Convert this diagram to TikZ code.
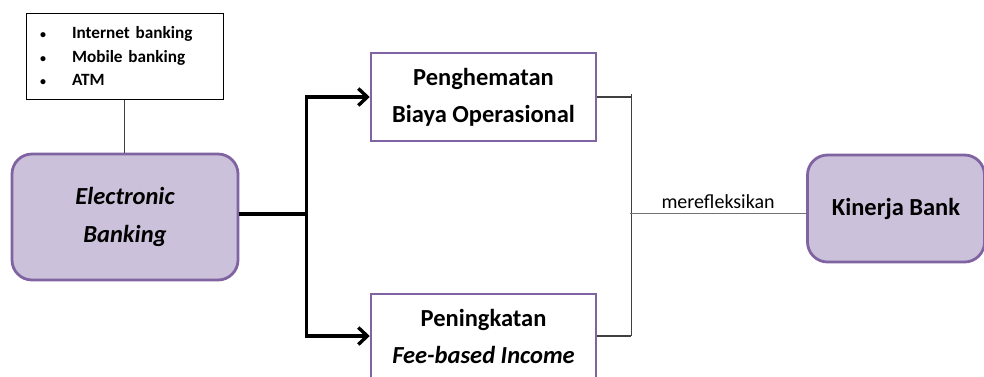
\documentclass[tikz,border=0pt]{standalone}
\usepackage{fontspec}
\setmainfont{Carlito}
\usetikzlibrary{arrows.meta}
\definecolor{lav}{HTML}{CCC1DA}
\definecolor{purp}{HTML}{8064A2}
\definecolor{dgray}{HTML}{404040}
\newcommand{\blt}{\makebox[43pt][l]{\hspace{11pt}{\fontsize{12}{12}\selectfont\textbullet}}}
\tikzset{
  x=1pt,y=-1pt,
  softbox/.style={draw=purp,line width=2.8pt,fill=lav,rounded corners=20pt,align=center,
    font=\fontsize{24.5}{38}\selectfont\bfseries,inner sep=0pt},
  plainbox/.style={draw=purp,line width=2.5pt,fill=white,align=center,
    font=\fontsize{24.5}{37}\selectfont\bfseries,inner sep=0pt,
    minimum width=225pt},
  listbox/.style={draw=black,line width=1pt,fill=white,align=left,
    font={\fontsize{17.2}{23.5}\selectfont\bfseries\spaceskip=3.2pt\relax},
    inner xsep=3pt,inner ysep=0pt,text width=191pt,minimum height=86pt},
  thickarrow/.style={line width=3.4pt,-{Straight Barb[length=9pt,width=17pt,line width=3.4pt]}},
  thinline/.style={draw=dgray,line width=1.3pt},
}
\begin{document}
\begin{tikzpicture}
\useasboundingbox (0,0) rectangle (984,376);
\node[listbox] (list) at (124.5,56) {\blt Internet banking\\
\blt Mobile banking\\
\blt ATM};
\node[softbox,minimum width=226pt,minimum height=126pt] (eb) at (125,217)
  {\itshape Electronic\\ \itshape Banking};
\node[plainbox,minimum height=88pt] (p1) at (483.5,97)
  {Penghematan\\Biaya Operasional};
\node[plainbox,minimum height=84pt] (p2) at (483.5,336)
  {Peningkatan\\\itshape Fee-based Income};
\node[softbox,minimum width=177pt,minimum height=107pt] (kb) at (896,208.5)
  {Kinerja Bank};
% list to EB
\draw[line width=1pt,draw=dgray] (list.south) -- (list.south |- eb.north);
% thick fork
\draw[line width=3.4pt] ([yshift=3pt]eb.east) -- ++(67,0) coordinate (j);
\coordinate (jt) at (j |- p1.west);
\coordinate (jb) at (j |- p2.west);
\draw[line width=3.4pt] ([yshift=1.7pt]jt) -- ([yshift=-1.7pt]jb);
\draw[thickarrow] (jt) -- (p1.west);
\draw[thickarrow] (jb) -- (p2.west);
% thin bracket
\draw[thinline] (p1.east) -- ++(34,0) coordinate (b1);
\draw[thinline] (p2.east) -- ++(34,0) coordinate (b2);
\draw[thinline] ([yshift=3pt]b1) -- (b2);
\coordinate (m) at (630,213.5);
\draw[draw=gray!90!black,line width=1.3pt] (m) -- node[above=1pt,font=\fontsize{20}{22}\selectfont,text=black] {merefleksikan} (m -| kb.west);
\end{tikzpicture}
\end{document}
